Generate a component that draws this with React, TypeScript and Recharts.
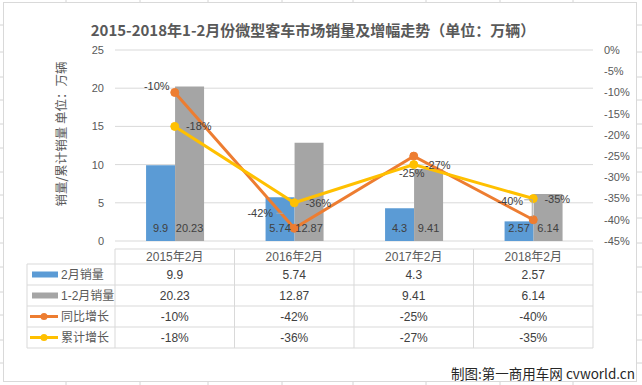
import React from 'react';
import {
  ComposedChart,
  Bar,
  Line,
  XAxis,
  YAxis,
  CartesianGrid,
  LabelList,
} from 'recharts';

// data
const categories = ['2015年2月', '2016年2月', '2017年2月', '2018年2月'];
const febSales = [9.9, 5.74, 4.3, 2.57];
const ytdSales = [20.23, 12.87, 9.41, 6.14];
const yoyGrowth = [-10, -42, -25, -40];
const ytdGrowth = [-18, -36, -27, -35];
const leftTicks = [0, 5, 10, 15, 20, 25];
const rightTicks = [0, -5, -10, -15, -20, -25, -30, -35, -40, -45];

const seriesNames = ['2月销量', '1-2月销量', '同比增长', '累计增长'];

const BLUE = '#5b9bd5';
const GRAY = '#a5a5a5';
const ORANGE = '#ed7d31';
const GOLD = '#ffc000';
const GRID = '#d9d9d9';
const TEXT = '#595959';
const VALUE = '#404040';
const NUM_FONT = '"Liberation Sans", "Noto Sans CJK SC", sans-serif';
const CJK_FONT = '"Noto Sans CJK SC", "Liberation Sans", sans-serif';

const W = 642;
const H = 385;
const PLOT_L = 115;
const PLOT_R = 593;
const PLOT_T = 50;
const PLOT_B = 241;

// manual label placement like the Excel original (dx, dy from the point)
const yoyNudge = [
  [-18, -6],
  [-34, -15],
  [-2, 17],
  [-23, -19],
];

const chartData = categories.map((cat, i) => ({
  cat,
  feb: febSales[i],
  ytd: ytdSales[i],
  yoy: yoyGrowth[i],
  ytdg: ytdGrowth[i],
}));

const pct = (v: number) => `${v}%`;

const YoyLabel = (props: any) => {
  const { x, y, index, value } = props;
  const [dx, dy] = yoyNudge[index] || [0, -10];
  return (
    <g>
      {index === 1 && (
        <line x1={x - 18} y1={y - 15} x2={x - 11} y2={y - 15} stroke="#a6a6a6" strokeWidth={1} />
      )}
      {index === 3 && (
        <polyline
          points={`${x - 9},${y - 20} ${x - 1},${y - 20} ${x - 1},${y - 3}`}
          fill="none"
          stroke="#a6a6a6"
          strokeWidth={1}
        />
      )}
      <text
        x={x + dx}
        y={y + dy}
        textAnchor="middle"
        dominantBaseline="central"
        fontSize={11}
        fontFamily={NUM_FONT}
        fill={VALUE}
      >
        {pct(value)}
      </text>
    </g>
  );
};

const YtdLabel = (props: any) => {
  const { x, y, value } = props;
  return (
    <text
      x={x + 24}
      y={y}
      textAnchor="middle"
      dominantBaseline="central"
      fontSize={11}
      fontFamily={NUM_FONT}
      fill={VALUE}
    >
      {pct(value)}
    </text>
  );
};

// sheet cell lines peeking out around the chart object
const sheetCols = [66, 140, 208, 282, 353, 426, 500, 573];
const sheetRows = [25, 52, 77, 100, 124, 148, 172, 195, 218, 243, 267, 292, 315, 340, 363];

const DataTable = () => {
  const colW = (PLOT_R - PLOT_L) / categories.length;
  const headTop = 249;
  const rowH = 21;
  const bodyTop = 264;
  const tableBottom = bodyTop + rowH * 4;
  const keyX = 30;
  const rows = [febSales, ytdSales, yoyGrowth, ytdGrowth];
  const fmt = [String, String, pct, pct];
  const keys = [BLUE, GRAY, ORANGE, GOLD];

  return (
    <g>
      {/* outlines */}
      <line x1={PLOT_L} y1={headTop} x2={PLOT_R} y2={headTop} stroke={GRID} />
      {[0, 1, 2, 3, 4].map((r) => (
        <line key={r} x1={27} y1={bodyTop + r * rowH} x2={PLOT_R} y2={bodyTop + r * rowH} stroke={GRID} />
      ))}
      <line x1={27} y1={bodyTop} x2={27} y2={tableBottom} stroke={GRID} />
      {categories.map((_, i) => (
        <line
          key={i}
          x1={PLOT_L + colW * i}
          y1={headTop}
          x2={PLOT_L + colW * i}
          y2={tableBottom}
          stroke={GRID}
        />
      ))}
      <line x1={PLOT_R} y1={headTop} x2={PLOT_R} y2={tableBottom} stroke={GRID} />

      {/* header */}
      {categories.map((c, i) => (
        <text
          key={c}
          x={PLOT_L + colW * (i + 0.5)}
          y={headTop + 8}
          textAnchor="middle"
          dominantBaseline="central"
          fontSize={12}
          fontFamily={NUM_FONT}
          fill={TEXT}
        >
          {c}
        </text>
      ))}

      {/* rows */}
      {rows.map((vals, r) => {
        const cy = bodyTop + rowH * r + rowH / 2;
        return (
          <g key={r}>
            {r < 2 ? (
              <rect x={keyX + 2} y={cy - 3} width={26} height={6} fill={keys[r]} />
            ) : (
              <g>
                <line x1={keyX} y1={cy} x2={keyX + 28} y2={cy} stroke={keys[r]} strokeWidth={3} />
                <circle cx={keyX + 14} cy={cy} r={3.5} fill={keys[r]} />
              </g>
            )}
            <text
              x={61}
              y={cy}
              dominantBaseline="central"
              fontSize={12}
              fontFamily={NUM_FONT}
              fill={TEXT}
            >
              {seriesNames[r]}
            </text>
            {vals.map((v, i) => (
              <text
                key={i}
                x={PLOT_L + colW * (i + 0.5)}
                y={cy}
                textAnchor="middle"
                dominantBaseline="central"
                fontSize={12}
                fontFamily={NUM_FONT}
                fill={VALUE}
              >
                {fmt[r](v as number)}
              </text>
            ))}
          </g>
        );
      })}
    </g>
  );
};

export default function App() {
  return (
    <div
      style={{
        position: 'absolute',
        left: 0,
        top: 0,
        width: W,
        height: H,
        background: '#fff',
        overflow: 'hidden',
      }}
    >
      {/* worksheet behind the chart */}
      <svg width={W} height={H} style={{ position: 'absolute', left: 0, top: 0 }}>
        {sheetCols.map((x) => (
          <g key={x}>
            <line x1={x} y1={0} x2={x} y2={3} stroke="#d4d4d4" />
            <line x1={x} y1={382} x2={x} y2={H} stroke="#d4d4d4" />
          </g>
        ))}
        {sheetRows.map((y) => (
          <g key={y}>
            <line x1={0} y1={y} x2={3} y2={y} stroke="#d4d4d4" />
            <line x1={637} y1={y} x2={W} y2={y} stroke="#d4d4d4" />
          </g>
        ))}
        <rect x={3.5} y={2.5} width={633} height={379} fill="#fff" stroke={GRID} />
      </svg>

      <div style={{ position: 'absolute', left: 0, top: 0 }}>
        <ComposedChart
          width={W}
          height={H}
          data={chartData}
          margin={{ top: PLOT_T, right: 0, bottom: H - PLOT_B, left: 0 }}
          barCategoryGap="26%"
          barGap={0}
        >
          <CartesianGrid vertical={false} stroke={GRID} yAxisId="left" />
          <XAxis dataKey="cat" xAxisId={0} hide />
          <YAxis
            yAxisId="left"
            orientation="left"
            width={PLOT_L}
            domain={[0, 25]}
            ticks={leftTicks}
            axisLine={false}
            tickLine={false}
            tickMargin={5}
            tick={{ fill: TEXT, fontSize: 11, fontFamily: NUM_FONT }}
          />
          <YAxis
            yAxisId="right"
            orientation="right"
            width={W - PLOT_R}
            domain={[-45, 0]}
            ticks={rightTicks}
            axisLine={false}
            tickLine={false}
            tickMargin={5}
            tickFormatter={pct}
            tick={{ fill: TEXT, fontSize: 11, fontFamily: NUM_FONT }}
          />
          <Bar yAxisId="left" dataKey="feb" name={seriesNames[0]} fill={BLUE} isAnimationActive={false}>
            <LabelList
              dataKey="feb"
              position="insideBottom"
              offset={9}
              fill={VALUE}
              fontSize={11}
              fontFamily={NUM_FONT}
            />
          </Bar>
          <Bar yAxisId="left" dataKey="ytd" name={seriesNames[1]} fill={GRAY} isAnimationActive={false}>
            <LabelList
              dataKey="ytd"
              position="insideBottom"
              offset={9}
              fill={VALUE}
              fontSize={11}
              fontFamily={NUM_FONT}
            />
          </Bar>
          <Line
            yAxisId="right"
            type="linear"
            dataKey="yoy"
            name={seriesNames[2]}
            stroke={ORANGE}
            strokeWidth={3}
            dot={{ r: 4, fill: ORANGE, stroke: ORANGE, strokeWidth: 1 }}
            label={YoyLabel}
            isAnimationActive={false}
          />
          <Line
            yAxisId="right"
            type="linear"
            dataKey="ytdg"
            name={seriesNames[3]}
            stroke={GOLD}
            strokeWidth={3}
            dot={{ r: 4, fill: GOLD, stroke: GOLD, strokeWidth: 1 }}
            label={YtdLabel}
            isAnimationActive={false}
          />
        </ComposedChart>
      </div>

      {/* title, axis title, data table, credit */}
      <svg
        width={W}
        height={H}
        style={{ position: 'absolute', left: 0, top: 0, pointerEvents: 'none' }}
      >
        <text
          x={313}
          y={29}
          textAnchor="middle"
          dominantBaseline="central"
          fontSize={15}
          fontWeight="bold"
          fontFamily={CJK_FONT}
          fill={TEXT}
        >
          2015-2018年1-2月份微型客车市场销量及增幅走势（单位：万辆）
        </text>
        <text
          x={60}
          y={134}
          transform="rotate(-90 60 134)"
          textAnchor="middle"
          dominantBaseline="central"
          fontSize={12.5}
          fontFamily={CJK_FONT}
          fill={TEXT}
        >
          销量/累计销量 单位：万辆
        </text>
        <DataTable />
        <text
          x={635}
          y={373}
          textAnchor="end"
          dominantBaseline="central"
          fontSize={13.5}
          fontFamily={CJK_FONT}
          fill="#262626"
        >
          制图:第一商用车网 cvworld.cn
        </text>
      </svg>
    </div>
  );
}
